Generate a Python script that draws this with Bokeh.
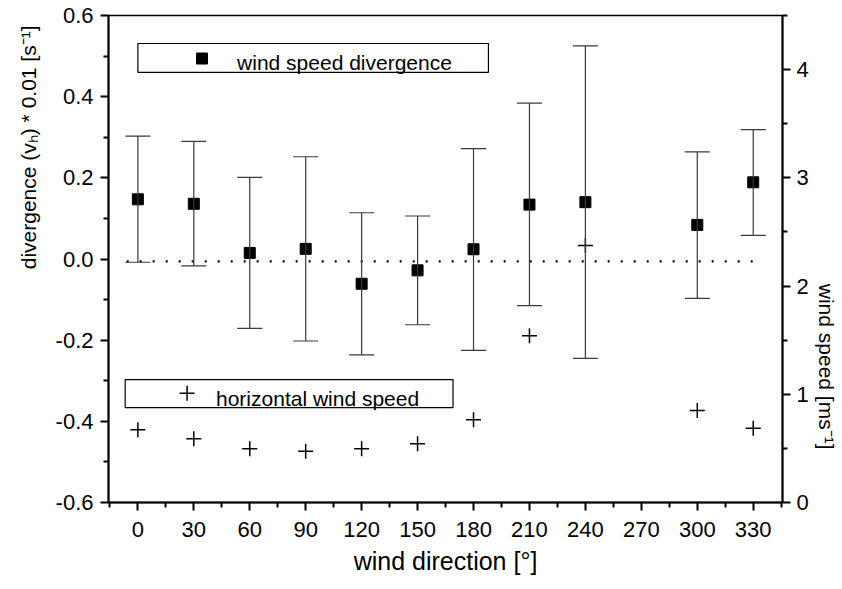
from bokeh.plotting import figure
from bokeh.models import (Range1d, LinearAxis, FixedTicker, PrintfTickFormatter,
                          Whisker, TeeHead, ColumnDataSource, Title)
from bokeh.core.properties import value
from bokeh.embed import file_html
from bokeh.resources import INLINE

# ---- data ----
direction = [0, 30, 60, 90, 120, 150, 180, 210, 240, 300, 330]
divergence = [0.147, 0.136, 0.015, 0.025, -0.061, -0.028, 0.024, 0.134, 0.140, 0.084, 0.189]
div_upper = [0.303, 0.290, 0.201, 0.252, 0.114, 0.106, 0.272, 0.384, 0.525, 0.264, 0.319]
div_lower = [-0.008, -0.017, -0.171, -0.202, -0.236, -0.162, -0.225, -0.115, -0.245, -0.097, 0.058]
wind_speed = [0.672, 0.589, 0.496, 0.474, 0.496, 0.542, 0.764, 1.541, 2.375, 0.850, 0.687]

x_ticks = [0, 30, 60, 90, 120, 150, 180, 210, 240, 270, 300, 330]
x_minor = [-15, 15, 45, 75, 105, 135, 165, 195, 225, 255, 285, 315, 345]
left_ticks = [-0.6, -0.4, -0.2, 0.0, 0.2, 0.4, 0.6]
left_minor = [-0.5, -0.3, -0.1, 0.1, 0.3, 0.5]
right_ticks = [0, 1, 2, 3, 4]
right_minor = [0.5, 1.5, 2.5, 3.5, 4.5]
zero_level = -0.006

FONT = "Liberation Sans"

p = figure(width=842, height=589, output_backend="svg", toolbar_location=None,
           x_range=Range1d(-15.75, 345.7), y_range=Range1d(-0.6, 0.6),
           min_border_left=108, min_border_right=59, min_border_top=15,
           min_border_bottom=87)
p.extra_y_ranges = {"ws": Range1d(0, 4.5)}
p.xgrid.visible = False
p.ygrid.visible = False
p.outline_line_color = "black"
p.outline_line_width = 1.5
p.background_fill_color = "white"
p.border_fill_color = "white"

def style_axis(ax, ticks, minor, fmt=None):
    ax.ticker = FixedTicker(ticks=ticks, minor_ticks=minor)
    if fmt is not None:
        ax.formatter = fmt
    ax.axis_line_width = 2
    ax.axis_line_color = "black"
    ax.major_tick_line_width = 2
    ax.minor_tick_line_width = 2
    ax.major_tick_in = 0
    ax.major_tick_out = 8
    ax.minor_tick_in = 0
    ax.minor_tick_out = 5
    ax.major_label_text_font = FONT
    ax.major_label_text_font_size = "22px"
    ax.major_label_text_color = "black"
    ax.axis_label_text_font = FONT
    ax.axis_label_text_font_style = "normal"
    ax.axis_label_text_font_size = "25px"
    ax.axis_label_text_color = "black"

xa = p.xaxis[0]
style_axis(xa, x_ticks, x_minor)
xa.axis_label = "wind direction [°]"
xa.major_label_standoff = 11
xa.axis_label_standoff = 7

ya = p.yaxis[0]
style_axis(ya, left_ticks, left_minor, PrintfTickFormatter(format="%.1f"))
ya.major_label_standoff = 7

ra = LinearAxis(y_range_name="ws")
style_axis(ra, right_ticks, right_minor)
ra.major_label_standoff = 6
p.add_layout(ra, "right")

# axis titles placed as in the reference (off-centre along the axes)
p.add_layout(Title(text="divergence (vₕ) * 0.01 [s⁻¹]", align="right", offset=10,
                   standoff=26, text_font=FONT, text_font_size="21px",
                   text_font_style="normal", text_color="black"), "left")
p.add_layout(Title(text="wind speed [ms⁻¹]", align="right", offset=53,
                   standoff=6, text_font=FONT, text_font_size="21px",
                   text_font_style="normal", text_color="black"), "right")

# legend boxes (drawn first so markers sit on top)
p.quad(left=[0.0], right=[188.0], top=[0.531], bottom=[0.460],
       fill_color="white", line_color="black", line_width=1.2)
p.quad(left=[-6.8], right=[169.0], top=[-0.297], bottom=[-0.366],
       fill_color="white", line_color="black", line_width=1.2)
p.scatter(x=[34.4], y=[0.494], marker="square", size=11, color="black")
p.scatter(x=[26.4], y=[-0.331], marker="cross", size=15, line_width=1.5,
          line_color="black")
p.text(x=[53.2], y=[0.484], text=["wind speed divergence"], text_font=value(FONT),
       text_font_size="21px", text_baseline="middle", text_align="left",
       text_color="black")
p.text(x=[41.9], y=[-0.344], text=["horizontal wind speed"], text_font=value(FONT),
       text_font_size="21px", text_baseline="middle", text_align="left",
       text_color="black")

# dotted zero line
p.line(x=[min(direction) - 6, max(direction) + 2], y=[zero_level, zero_level],
       line_color="black", line_width=2.2, line_dash="2 11")

src = ColumnDataSource(dict(x=direction, y=divergence, upper=div_upper,
                            lower=div_lower, ws=wind_speed))

wcol = "#3a3a3a"
wh = Whisker(base="x", upper="upper", lower="lower", source=src,
             dimension="height", line_color=wcol, line_width=1.2,
             upper_head=TeeHead(size=25, line_color=wcol, line_width=1.2),
             lower_head=TeeHead(size=25, line_color=wcol, line_width=1.2))
wh.level = "glyph"
p.add_layout(wh)

p.scatter(x="x", y="y", source=src, marker="square", size=11, color="black")
p.scatter(x="x", y="ws", source=src, marker="cross", size=15, line_width=1.5,
          line_color="black", y_range_name="ws")

open("out.html", "w").write(file_html(p, INLINE))
